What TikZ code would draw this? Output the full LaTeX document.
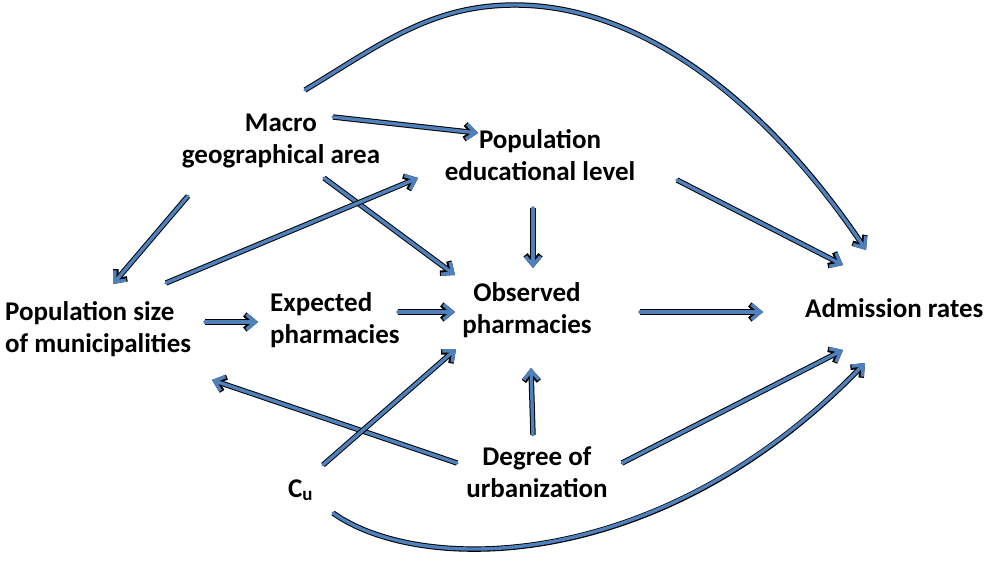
\documentclass[tikz,border=0pt]{standalone}
\usepackage{fontspec}
\setmainfont{Carlito}
\usetikzlibrary{arrows.meta}
\definecolor{linkblue}{RGB}{79,129,189}

\begin{document}
\begin{tikzpicture}[x=1pt, y=-1pt,
    every node/.style={inner sep=0pt, font=\fontsize{27}{32}\selectfont\bfseries},
    link/.style={line width=3.4pt, draw=linkblue, line cap=round,
        -{Straight Barb[length=9pt,width=15pt]},
        preaction={draw=black, line width=5.4pt}}]

\useasboundingbox (0,0) rectangle (986,563);

% variables (base = baseline of the last line)
\node[align=center, anchor=base] (macro) at (281,163) {Macro\\geographical area};
\node[align=center, anchor=base] (popedu) at (540,180) {Population\\educational level};
\node[align=left, anchor=base west] (popsize) at (5,352) {Population size\\of municipalities};
\node[align=left, anchor=base west] (expected) at (270,343) {Expected\\pharmacies};
\node[align=center, anchor=base] (obs) at (527,333) {Observed\\pharmacies};
\node[anchor=base west] (adm) at (805,317) {Admission rates};
\node[align=center, anchor=base] (deg) at (537,497) {Degree of\\urbanization};
\node[anchor=base west] (cu) at (288,497) {C\textsubscript{u}};

% arrows from macro geographical area
\draw[link] ([shift={(52,-46)}]macro.base) -- ([shift={(-62,-47)}]popedu.base);
\draw[link] ([shift={(43,15)}]macro.base) -- ([shift={(-72,-58)}]obs.base);
\draw[link] ([shift={(-93,33)}]macro.base) -- ([shift={(108,-68)}]popsize.base west);
\draw[link] ([shift={(24,-73)}]macro.base)
    .. controls (380,45) and (430,5) .. (515,5)
    .. controls (640,5) and (765,100) .. ([shift={(61,-67)}]adm.base west);

% arrows from population
\draw[link] ([shift={(161,-69)}]popsize.base west) -- ([shift={(-122,-2)}]popedu.base);
\draw[link] ([shift={(200,-30)}]popsize.base west) -- ([shift={(-12,-21)}]expected.base west);
\draw[link] ([shift={(-7,28)}]popedu.base) -- ([shift={(6,-65)}]obs.base);
\draw[link] ([shift={(137,0)}]popedu.base) -- ([shift={(38,-52)}]adm.base west);

% pharmacies
\draw[link] ([shift={(128,-31)}]expected.base west) -- ([shift={(-72,-21)}]obs.base);
\draw[link] ([shift={(113,-21)}]obs.base) -- ([shift={(-42,-5)}]adm.base west);

% degree of urbanization
\draw[link] ([shift={(-4,-62)}]deg.base) -- ([shift={(4,35)}]obs.base);
\draw[link] ([shift={(-80,-34)}]deg.base) -- ([shift={(207,28)}]popsize.base west);
\draw[link] ([shift={(85,-34)}]deg.base) -- ([shift={(38,33)}]adm.base west);

% C_u
\draw[link] ([shift={(35,-32)}]cu.base west) -- ([shift={(-71,16)}]obs.base);
\draw[link] ([shift={(45,16)}]cu.base west)
    .. controls (420,575) and (660,575) .. ([shift={(60,46)}]adm.base west);

\end{tikzpicture}
\end{document}
